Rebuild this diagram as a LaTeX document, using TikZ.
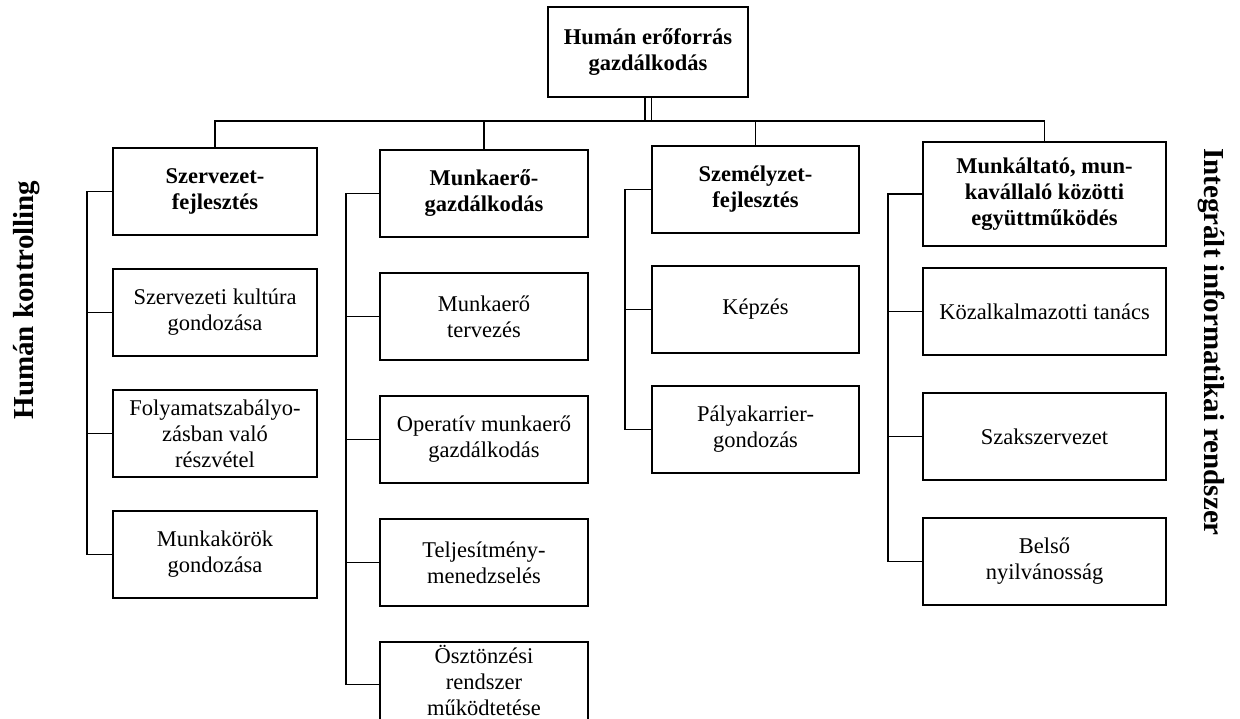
\documentclass[tikz,border=0pt]{standalone}
\usepackage{fontspec}
\setmainfont{Liberation Serif}
\usetikzlibrary{positioning}
\newcommand{\boxfont}{\fontsize{12.8}{14.8}\selectfont}

\begin{document}
\begin{tikzpicture}[
    box/.style={draw, line width=1.1pt, align=center, minimum height=1.74cm, inner sep=2pt, font=\boxfont},
    head box/.style={box, font=\boxfont\bfseries},
    side label/.style={font=\fontsize{16.5}{19}\selectfont\bfseries},
    link/.style={line width=0.8pt}
]
    \useasboundingbox (0,0) rectangle (24.8,-14.38);
    \clip (0,0) rectangle (24.8,-14.38);

    \node[head box, minimum width=4cm, minimum height=1.8cm] (top box) at (12.96,-1.04) {Humán erőforrás\\gazdálkodás};
    \coordinate (hub) at ([yshift=-0.46cm]top box.south);

    % Szervezetfejlesztés
    \begin{scope}[nodes={minimum width=4.08cm}]
        \node[head box] (szervezet 1) at (4.30,-3.83) {Szervezet-\\fejlesztés};
        \node[box, below=0.64cm of szervezet 1] (szervezet 2) {Szervezeti kultúra\\gondozása};
        \node[box, below=0.64cm of szervezet 2] (szervezet 3) {Folyamatszabályo-\\zásban való\\részvétel};
        \node[box, below=0.64cm of szervezet 3] (szervezet 4) {Munkakörök\\gondozása};
    \end{scope}

    % Munkaerő-gazdálkodás
    \begin{scope}[nodes={minimum width=4.16cm}]
        \node[head box] (munkaero 1) at (9.68,-3.87) {Munkaerő-\\gazdálkodás};
        \node[box, below=0.68cm of munkaero 1] (munkaero 2) {Munkaerő\\tervezés};
        \node[box, below=0.68cm of munkaero 2] (munkaero 3) {Operatív munkaerő\\gazdálkodás};
        \node[box, below=0.68cm of munkaero 3] (munkaero 4) {Teljesítmény-\\menedzselés};
        \node[box, text depth=1.5cm, below=0.68cm of munkaero 4] (munkaero 5) {Ösztönzési\\rendszer\\működtetése};
    \end{scope}
    \coordinate (munkaero 5 tap) at ([yshift=-0.88cm]munkaero 5.north west);

    % Személyzetfejlesztés
    \begin{scope}[nodes={minimum width=4.14cm}]
        \node[head box] (szemelyzet 1) at (15.11,-3.79) {Személyzet-\\fejlesztés};
        \node[box, below=0.62cm of szemelyzet 1] (szemelyzet 2) {Képzés};
        \node[box, below=0.62cm of szemelyzet 2] (szemelyzet 3) {Pályakarrier-\\gondozás};
    \end{scope}

    % Munkáltató, munkavállaló
    \begin{scope}[nodes={minimum width=4.86cm}]
        \node[head box, minimum height=2.08cm] (kapcsolat 1) at (20.89,-3.88) {Munkáltató, mun-\\kavállaló közötti\\együttműködés};
        \node[box, below=0.4cm of kapcsolat 1] (kapcsolat 2) {Közalkalmazotti tanács};
        \node[box, below=0.72cm of kapcsolat 2] (kapcsolat 3) {Szakszervezet};
        \node[box, below=0.72cm of kapcsolat 3] (kapcsolat 4) {Belső\\nyilvánosság};
    \end{scope}

    \node[side label, rotate=90] (kontrolling) at (0.54,-6.0) {Humán kontrolling};
    \node[side label, rotate=-90] (informatika) at (24.23,-6.84) {Integrált informatikai rendszer};

    \draw[double, double distance=0.1cm, line width=0.6pt] (top box.south) -- (hub);
    \draw[link] (szervezet 1.north) |- (hub) -| (kapcsolat 1.north);
    \draw[link] (munkaero 1.north) -- (munkaero 1.north |- hub);
    \draw[link] (szemelyzet 1.north) -- (szemelyzet 1.north |- hub);

    \draw[link] (szervezet 1.west) -- ++(-0.5,0) |- (szervezet 4.west);
    \foreach \i in {2,3}
        \draw[link] (szervezet \i.west) -- ++(-0.5,0);

    \draw[link] (munkaero 1.west) -- ++(-0.66,0) |- (munkaero 5 tap);
    \foreach \i in {2,3,4}
        \draw[link] (munkaero \i.west) -- ++(-0.66,0);

    \draw[link] (szemelyzet 1.west) -- ++(-0.52,0) |- (szemelyzet 3.west);
    \draw[link] (szemelyzet 2.west) -- ++(-0.52,0);

    \draw[link] (kapcsolat 1.west) -- ++(-0.68,0) |- (kapcsolat 4.west);
    \foreach \i in {2,3}
        \draw[link] (kapcsolat \i.west) -- ++(-0.68,0);
\end{tikzpicture}
\end{document}
